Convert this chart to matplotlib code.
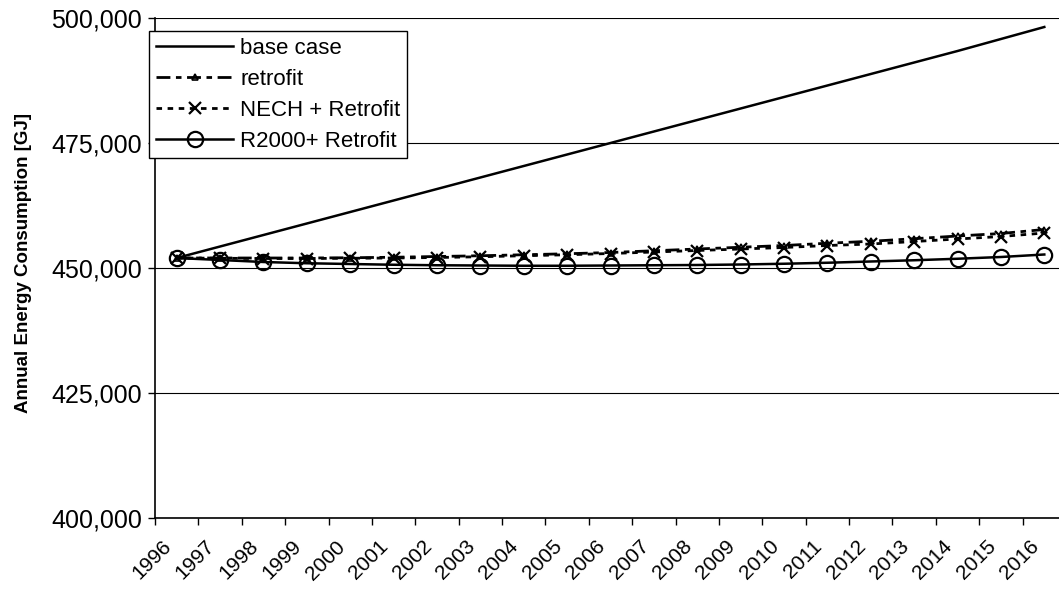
import numpy as np
import matplotlib
matplotlib.use('Agg')
import matplotlib.pyplot as plt
import matplotlib.transforms as mtransforms
from matplotlib.ticker import FuncFormatter

plt.rcParams['font.family'] = ['Liberation Sans', 'DejaVu Sans']

# data
years = [str(y) for y in range(1996, 2017)]
base_case = [452000, 454300, 456600, 458900, 461200, 463500, 465800, 468100, 470400, 472700,
             475000, 477300, 479600, 481900, 484200, 486500, 488800, 491100, 493400, 495800, 498200]
retrofit = [452000, 452000, 452000, 452000, 452050, 452150, 452300, 452450, 452650, 452850,
            453100, 453450, 453800, 454150, 454500, 454950, 455350, 455850, 456400, 456900, 457700]
nech_retrofit = [452000, 451950, 451900, 451900, 451950, 452000, 452100, 452250, 452450, 452650,
                 452900, 453200, 453500, 453800, 454100, 454500, 454800, 455300, 455800, 456300, 457000]
r2000_retrofit = [452000, 451600, 451200, 450950, 450800, 450650, 450550, 450500, 450450, 450450,
                  450500, 450550, 450600, 450700, 450850, 451050, 451300, 451550, 451850, 452200, 452700]

x = np.arange(len(years))

fig = plt.figure(figsize=(10.59, 5.92), dpi=100)
ax = fig.add_axes([155 / 1059, 74 / 592, 911 / 1059, 500 / 592])

ax.plot(x, base_case, color='black', lw=1.8, label='base case')
ax.plot(x, retrofit, color='black', lw=2, linestyle=(0, (5, 2, 2, 2)),
        marker='^', ms=5, mfc='none', mew=1.2, label='retrofit')
ax.plot(x, nech_retrofit, color='black', lw=2, linestyle=(0, (2, 2)),
        marker='x', ms=9, mew=1.6, label='NECH + Retrofit')
ax.plot(x, r2000_retrofit, color='black', lw=1.8,
        marker='o', ms=11, mfc='none', mew=1.6, label='R2000+ Retrofit')

ax.set_xlim(-0.5, len(years) - 0.5)
ax.set_ylim(400000, 500000)
ax.set_yticks([400000, 425000, 450000, 475000, 500000])
ax.yaxis.set_major_formatter(FuncFormatter(lambda v, p: f'{int(v):,}'))
ax.yaxis.grid(True, color='black', lw=0.8)
ax.set_axisbelow(True)

ax.set_xticks(x)
ax.set_xticklabels(years, rotation=45, ha='right', rotation_mode='anchor')
ax.set_xticks(np.arange(-0.5, len(years)), minor=True)
ax.tick_params(axis='x', which='major', length=0, labelsize=15, pad=10)
ax.tick_params(axis='x', which='minor', length=5, width=1, direction='out')
ax.tick_params(axis='y', length=5, width=1, labelsize=18, pad=4.5)

# shift year labels a little left and down, like the original
shift = mtransforms.ScaledTranslation(-0.15, -0.05, fig.dpi_scale_trans)
for lab in ax.get_xticklabels():
    lab.set_transform(lab.get_transform() + shift)

for s in ['top', 'right']:
    ax.spines[s].set_visible(False)
for s in ['left', 'bottom']:
    ax.spines[s].set_linewidth(1.2)

ax.set_ylabel('Annual Energy Consumption [GJ]', fontsize=13.5, fontweight='bold')
ax.yaxis.set_label_coords(-0.135, 0.51)

leg = fig.legend(loc='upper left', bbox_to_anchor=(149 / 1059, 1 - 31 / 592),
                 fontsize=16, frameon=True, fancybox=False, edgecolor='black',
                 handlelength=3.5, handletextpad=0.3, labelspacing=0.45,
                 borderpad=0.3, borderaxespad=0)
leg.get_frame().set_linewidth(1)
leg.get_frame().set_alpha(1)

fig.savefig('out.png', dpi=100)
